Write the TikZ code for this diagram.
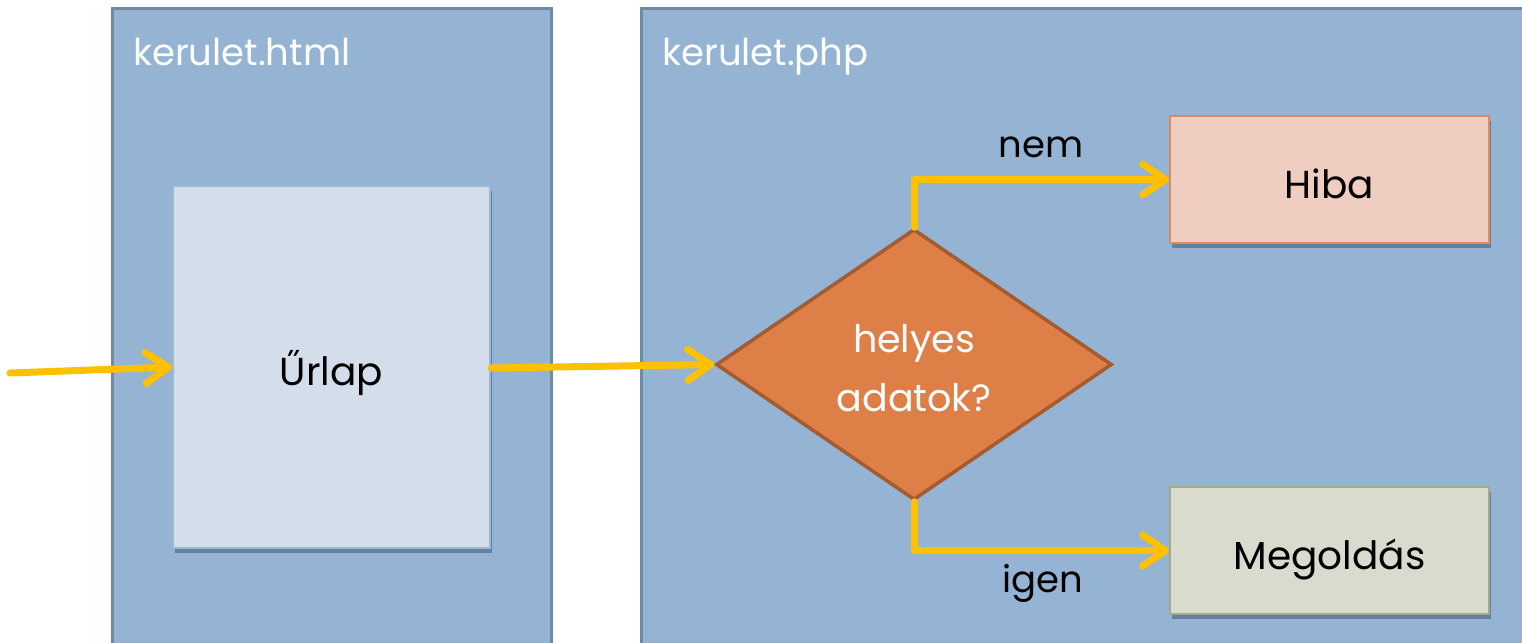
\documentclass[tikz,border=0pt]{standalone}
\usepackage{fontspec}
\setmainfont{Poppins}
\usetikzlibrary{arrows.meta,shapes.geometric,shadows}

\definecolor{panelfill}{HTML}{95B4D3}
\definecolor{paneledge}{HTML}{6F8AA3}
\definecolor{formfill}{HTML}{D3DEEA}
\definecolor{formedge}{HTML}{9DB8D3}
\definecolor{decfill}{HTML}{DE7F47}
\definecolor{decedge}{HTML}{A35B32}
\definecolor{errfill}{HTML}{EFCDC0}
\definecolor{erredge}{HTML}{E0895A}
\definecolor{okfill}{HTML}{D8DBCE}
\definecolor{okedge}{HTML}{A3A98A}
\definecolor{flow}{HTML}{FFC000}
\definecolor{shade}{HTML}{3E5670}

\tikzset{
  panel/.style={fill=panelfill, draw=paneledge, line width=3pt},
  paneltitle/.style={anchor=base west, text=white, font=\fontsize{37}{44}\selectfont, inner sep=0pt},
  boxshadow/.style={drop shadow={shadow xshift=2pt, shadow yshift=-5pt, fill=shade, opacity=0.55}},
  boxtext/.style={font=\fontsize{39}{46}\selectfont, text height=37pt, text depth=0pt},
  formbox/.style={rectangle, fill=formfill, draw=formedge, line width=2pt, boxshadow, boxtext,
    minimum width=317pt, minimum height=362pt},
  resultbox/.style={rectangle, line width=2pt, boxshadow, boxtext,
    minimum width=319pt, minimum height=127pt},
  decision/.style={diamond, fill=decfill, draw=decedge, line width=3.5pt, aspect=1.475,
    inner sep=0pt, minimum width=396pt, minimum height=271pt},
  decisiontext/.style={text=white, align=center, inner sep=0pt,
    font=\fontsize{38}{59}\selectfont},
  flowline/.style={draw=flow, line width=7pt, line cap=round, line join=round,
    -{Straight Barb[length=23pt, width=31pt, line cap=round, line join=round]}},
  branchlabel/.style={font=\fontsize{37}{44}\selectfont, inner sep=0pt, anchor=base},
}

\begin{document}
\begin{tikzpicture}[x=1pt, y=-1pt]
  \useasboundingbox (0,0) rectangle (1522,642);
  \clip (0,0) rectangle (1522,642);

  % the two file panels
  \draw[panel] (112,9) rectangle (551,700);
  \draw[panel] (641,9) rectangle (1560,700);
  \node[paneltitle] (htmltitle) at (133,66) {kerulet.html};
  \node[paneltitle] (phptitle) at (662,66) {kerulet.php};

  % form page
  \node[formbox] (form) at (331.5,367) {Űrlap};

  % decision and its outcomes
  \node[decision] (check) at (914,364.5) {};
  \node[decisiontext, yshift=-4pt] (checktext) at (check.center) {helyes\\adatok?};
  \node[resultbox, fill=errfill, draw=erredge] (err) at (1329.5,179.5) {Hiba};
  \node[resultbox, fill=okfill, draw=okedge] (ok) at (1329.5,550.5) {Megoldás};

  % incoming request
  \coordinate (start) at (10,373);
  \draw[flowline] (start) -- (form.west);
  \draw[flowline] (form.east |- 0,368) -- (check.west);

  % branches
  \draw[flowline] (check.north) |- (err.west);
  \draw[flowline] (check.south) |- (ok.west);
  \node[branchlabel] (nolabel) at (1041,157) {nem};
  \node[branchlabel] (yeslabel) at (1043,592) {igen};
\end{tikzpicture}
\end{document}
